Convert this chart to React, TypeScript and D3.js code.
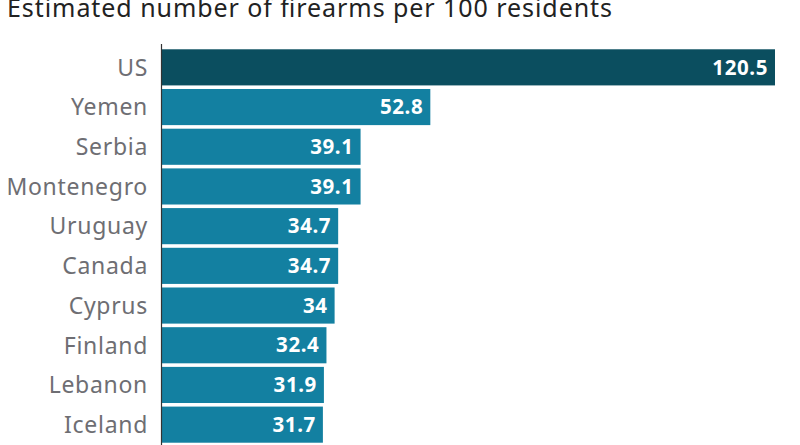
import React from "react";
import * as d3 from "d3";

const countries = ["US", "Yemen", "Serbia", "Montenegro", "Uruguay", "Canada", "Cyprus", "Finland", "Lebanon", "Iceland"];
const values = [120.5, 52.8, 39.1, 39.1, 34.7, 34.7, 34, 32.4, 31.9, 31.7];
const valueLabels = ["120.5", "52.8", "39.1", "39.1", "34.7", "34.7", "34", "32.4", "31.9", "31.7"];
const title = "Estimated number of firearms per 100 residents";

const W = 800;
const H = 445;
const FONT = "'Noto Sans', 'Open Sans', sans-serif";

export default function App() {
  const x = d3.scaleLinear().domain([0, 120.5]).range([161.5, 775]);
  const y = d3
    .scaleBand<string>()
    .domain(countries)
    .range([47.5, 47.5 + 39.7 * countries.length])
    .paddingInner(0.09)
    .paddingOuter(0.045);

  const data = countries.map((c, i) => ({ c, v: values[i], label: valueLabels[i] }));

  return (
    <svg
      width={W}
      height={H}
      style={{ position: "absolute", left: 0, top: 0, background: "#fff" }}
      fontFamily={FONT}
    >
      <text x={7} y={16.5} fontSize={25} fill="#222222" textLength={605} lengthAdjust="spacing">
        {title}
      </text>
      {data.map((d, i) => {
        const yy = y(d.c)!;
        const bh = y.bandwidth();
        const cy = yy + bh / 2;
        return (
          <g key={d.c}>
            <rect
              x={x(0) + 0.5}
              y={yy}
              width={x(d.v) - x(0) - 0.5}
              height={bh}
              fill={i === 0 ? "#0b4e5f" : "#1380a1"}
            />
            <text
              x={148}
              y={cy + 8.3}
              textAnchor="end"
              fontSize={23}
              letterSpacing={0.7}
              fill="#6e6e73"
            >
              {d.c}
            </text>
            <text
              x={x(d.v) - 7}
              y={cy + 7.2}
              textAnchor="end"
              fontSize={20.5}
              fontWeight={700}
              letterSpacing={0.6}
              fill="#ffffff"
            >
              {d.label}
            </text>
          </g>
        );
      })}
      <line x1={161.5} x2={161.5} y1={44} y2={H} stroke="#333333" strokeWidth={1.2} />
    </svg>
  );
}
